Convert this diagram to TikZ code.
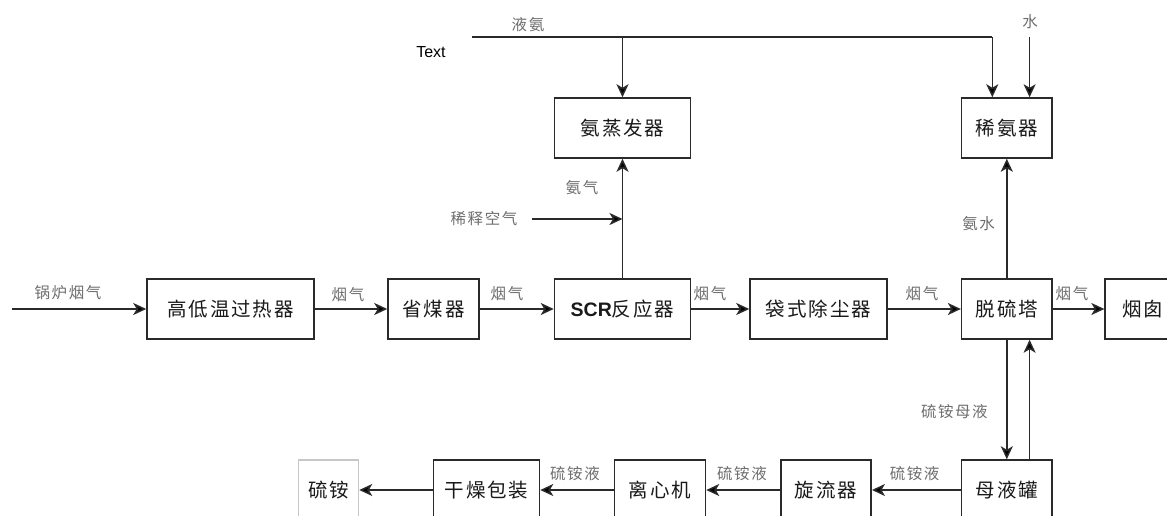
\documentclass[tikz,border=0pt]{standalone}
\usepackage{fontspec}
\setmainfont{Liberation Sans}
\newfontfamily\cjk{Noto Sans CJK SC}[LetterSpace=10]
\newfontfamily\cjklab{Noto Sans CJK SC}[LetterSpace=10]
\usetikzlibrary{arrows.meta,calc}
\definecolor{linec}{HTML}{2A2A2A}
\definecolor{labc}{HTML}{6E6E6E}
\definecolor{txtc}{HTML}{1A1A1A}
\tikzset{
  x=1pt, y=-1pt,
  unit/.style={draw=linec, line width=1.5pt, fill=white, minimum height=60pt,
    inner sep=0pt, font=\cjk\fontsize{19.5}{19.5}\selectfont, text=txtc},
  flow/.style={draw=linec, line width=1.5pt, -{Stealth[length=13pt,width=12pt,inset=3.5pt,fill=black]}},
  pipe/.style={draw=linec, line width=1.5pt},
  lab/.style={font=\cjklab\fontsize{15.5}{15.5}\selectfont, text=labc, inner sep=0pt},
}
\begin{document}
\begin{tikzpicture}
\useasboundingbox (0,0) rectangle (1167,516);
\clip (0,0) rectangle (1167,516);
\fill[white] (0,0) rectangle (1167,516);

% process units, upper row
\node[unit, minimum width=136pt] (evap) at (622.5,128) {氨蒸发器};
\node[unit, minimum width=90.4pt] (dilute) at (1006.8,128) {稀氨器};

% flue gas line
\node[unit, minimum width=167pt] (superh) at (230.5,309) {高低温过热器};
\node[unit, minimum width=91pt] (econ) at (433.5,309) {省煤器};
\node[unit, minimum width=136pt] (scr) at (622.5,309) {{\fontspec{Liberation Sans}[LetterSpace=0]\bfseries SCR}反应器};
\node[unit, minimum width=136.8pt] (bag) at (818.4,309) {袋式除尘器};
\node[unit, minimum width=90.4pt] (desulf) at (1006.8,309) {脱硫塔};
\node[unit, minimum width=75pt] (stack) at (1142.6,309) {烟囱};

% ammonium sulfate line
\node[unit, minimum width=90.4pt] (tank) at (1006.8,490) {母液罐};
\node[unit, minimum width=90.4pt] (cyclone) at (826,490) {旋流器};
\node[unit, minimum width=91pt] (centri) at (660,490) {离心机};
\node[unit, minimum width=106pt] (dryer) at (486.5,490) {干燥包装};
\node[unit, minimum width=60pt, draw=black!22] (product) at (328.5,490) {硫铵};

% free ends and branch columns
\coordinate (boiler) at (11.5,309);
\coordinate (liqin) at (472,37);
\coordinate (liqend) at (992.3,37);
\coordinate (water) at (1029.6,37);
\coordinate (air) at (532,219);

% flue gas
\draw[flow] (boiler) -- (superh.west);
\draw[flow] (superh) -- (econ);
\draw[flow] (econ) -- (scr);
\draw[flow] (scr) -- (bag);
\draw[flow] (bag) -- (desulf);
\draw[flow] (desulf) -- (stack);

% ammonia supply
\draw[pipe] (liqin) -- (liqend);
\draw[flow] (liqend) -- (dilute.north -| liqend);
\draw[flow] (liqin -| evap) -- (evap.north);
\draw[flow] (water) -- (dilute.north -| water);
\draw[flow] (scr.north) -- (evap.south);
\draw[flow] (air) -- (air -| evap);
\draw[flow] (desulf.north) -- (dilute.south);

% mother liquor loop
\draw[flow] (desulf.south) -- (tank.north);
\draw[flow] (tank.north -| water) -- (desulf.south -| water);

% product line
\draw[flow] (tank) -- (cyclone);
\draw[flow] (cyclone) -- (centri);
\draw[flow] (centri) -- (dryer);
\draw[flow] (dryer) -- (product);

% stream labels
\node[lab] (l1) at (68,293) {锅炉烟气};
\node[lab] (l2) at (348,295) {烟气};
\node[lab] (l3) at (507,294) {烟气};
\node[lab] (l4) at (710,294) {烟气};
\node[lab] (l5) at (922,294) {烟气};
\node[lab] (l6) at (1072,294) {烟气};
\node[lab] (l7) at (528,25) {液氨};
\node[lab] (l8) at (1030,22) {水};
\node[lab] (l9) at (582,188) {氨气};
\node[lab] (l10) at (484,219) {稀释空气};
\node[lab] (l11) at (978.6,224) {氨水};
\node[lab] (l12) at (954.4,412) {硫铵母液};
\node[lab] (l13) at (914.6,474) {硫铵液};
\node[lab] (l14) at (742,474) {硫铵液};
\node[lab] (l15) at (575,474) {硫铵液};
\node[font=\fontsize{16}{16}\selectfont, inner sep=0pt] (txt) at (431,52) {Text};
\end{tikzpicture}
\end{document}
